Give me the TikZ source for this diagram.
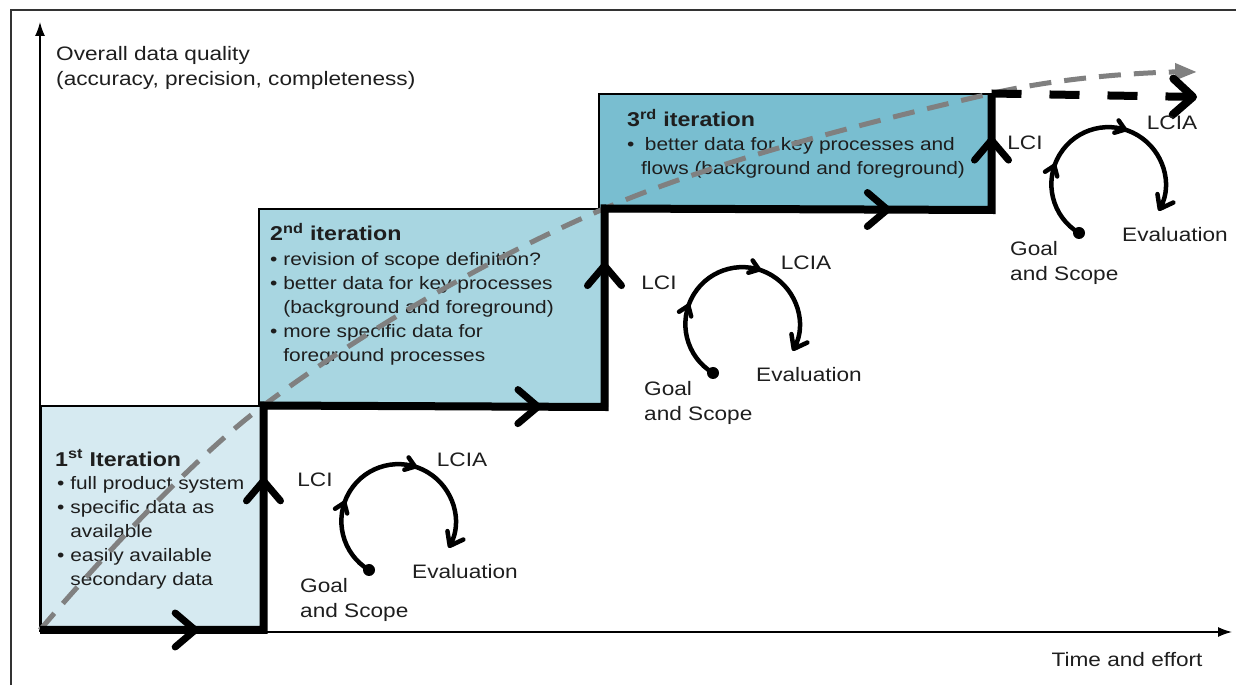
\documentclass[tikz,border=0pt]{standalone}
\usepackage{fontspec}
\setmainfont{Liberation Sans}
\usetikzlibrary{arrows.meta,positioning,calc,decorations.markings}

\definecolor{itA}{RGB}{214,234,241}
\definecolor{itB}{RGB}{168,214,225}
\definecolor{itC}{RGB}{121,190,208}
\definecolor{trendgray}{RGB}{128,128,128}
\definecolor{txt}{RGB}{30,30,30}

\tikzset{
  lcacycle/.pic={
    \fill (0,0) circle (6);
    \draw[cyc] (0,0) arc[start angle=239, end angle=-28, radius=57];
    \node[lbl] (-lci) at (-54,90) {LCI};
    \node[lbl] (-lcia) at (93,110) {LCIA};
    \node[lbl] (-eval) at (96,-2) {Evaluation};
    \node[lbl, align=left, anchor=west] (-goal) at (-69,-30) {Goal\\and Scope};
  }
}

\begin{document}
\begin{tikzpicture}[
x=1pt, y=1pt,
itbox/.style={draw, line width=1.5pt, anchor=south west, inner sep=0pt},
stair/.style={line width=8pt, line join=miter},
stairdash/.style={line width=8pt, dash pattern=on 30pt off 28pt, -{Straight Barb[length=20pt, width=36pt, round]}},
chev/.style={line width=7pt, -{Straight Barb[length=20pt, width=34pt, round]}},
trend/.style={trendgray, line width=5pt, dash pattern=on 22pt off 13pt, -{Triangle[length=22pt, width=16pt]}},
axis/.style={line width=1.5pt, -{Latex[length=14pt, width=10pt]}},
cyc/.style={line width=4.5pt, -{Straight Barb[length=12pt, width=18pt, round]},
  postaction={decorate, decoration={markings,
    mark=at position 0.30 with {\arrow{Straight Barb[length=9pt, width=13pt, round]}},
    mark=at position 0.63 with {\arrow{Straight Barb[length=9pt, width=13pt, round]}}}}},
lbl/.style={font=\fontsize{19.5}{25}\selectfont, text=txt, inner sep=0pt, xscale=1.16},
ttl/.style={font=\bfseries\fontsize{20}{24}\selectfont, text=txt, inner sep=0pt, xscale=1.16, anchor=west},
bul/.style={font=\fontsize{18}{24}\selectfont, text=txt, inner sep=0pt, xscale=1.16, anchor=west, align=left}
]
\useasboundingbox (0,0) rectangle (1236,685);

% frame
\draw[line width=1.5pt, black!80] (11,0) -- (11,675) -- (1236,675);

% -------- Axes --------
\coordinate (o) at (40,53);
\coordinate (ytop) at (40,663);
\coordinate (xend) at (1232,53);
\draw[axis] (o) -- (ytop);
\draw[axis] (o) -- (xend);
\node[lbl, align=left, anchor=west] (ylab) at (56,617) {Overall data quality\\(accuracy, precision, completeness)};
\node[lbl] (xlab) at (1127,25) {Time and effort};

% -------- Iterations --------
\node[itbox, fill=itA, minimum width=222pt, minimum height=223pt] (box1) at (40,55) {};
\node[itbox, fill=itB, minimum width=345pt, minimum height=197pt] (box2) at (258,278) {};
\node[itbox, fill=itC, minimum width=392pt, minimum height=115pt] (box3) at (598,475) {};

\node[ttl] (t1) at (55,227) {1\textsuperscript{st} Iteration};
\node[bul] (b1) at (57,152) {\textbullet\ full product system\\\textbullet\ specific data as\\\phantom{\textbullet\ }available\\\textbullet\ easily available\\\phantom{\textbullet\ }secondary data};

\node[ttl] (t2) at (270,453) {2\textsuperscript{nd} iteration};
\node[bul] (b2) at (270,376) {\textbullet\ revision of scope definition?\\\textbullet\ better data for key processes\\\phantom{\textbullet\ }(background and foreground)\\\textbullet\ more specific data for\\\phantom{\textbullet\ }foreground processes};

\node[ttl] (t3) at (627,567) {3\textsuperscript{rd} iteration};
\node[bul] (b3) at (627,527) {\textbullet\hspace{9pt}better data for key processes and\\\hspace*{12pt}flows (background and foreground)};

% -------- Quality trend --------
\coordinate (tend) at (1197,613);
\draw[trend] plot[smooth, tension=0.6] coordinates {(box1.south west) (box1.north east) (box2.north east) (box3.north east) (tend)};

% -------- Steps --------
\draw[stair] (box1.south west) -- (box1.south east) -- (box1.north east) -- (box2.south east) -- (box2.north east) -- (box3.south east) -- (box3.north east);
\coordinate (qend) at (1197,588);
\draw[stairdash] (box3.north east) -- (qend);
\foreach \a/\b/\t in {box1.south west/box1.south east/0.71, box1.south east/box1.north east/0.68,
  box1.north east/box2.south east/0.815, box2.south east/box2.north east/0.73,
  box2.north east/box3.south east/0.74, box3.south east/box3.north east/0.63}
  \draw[chev] (\a) -- ($(\a)!\t!(\b)$);

% -------- LCA cycles --------
\pic (c1) at (369,115) {lcacycle};
\pic (c2) at (713,312) {lcacycle};
\pic (c3) at (1079,452) {lcacycle};

\end{tikzpicture}
\end{document}
